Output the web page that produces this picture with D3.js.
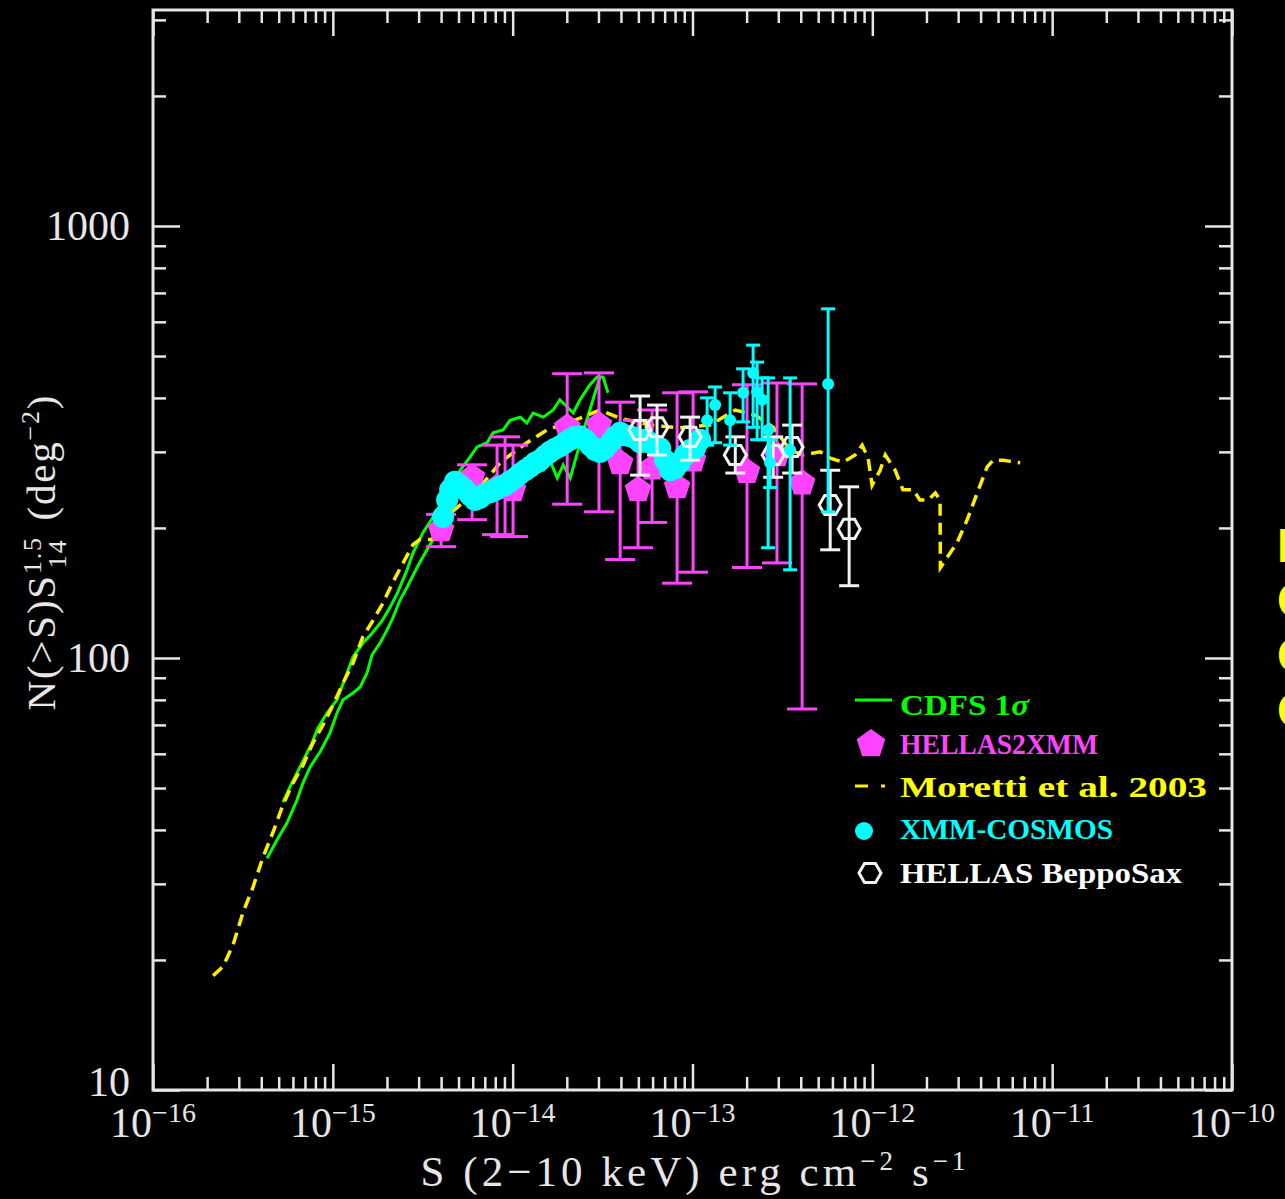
<!DOCTYPE html>
<html><head><meta charset="utf-8">
<script src="https://cdn.jsdelivr.net/npm/d3@7"></script>
<style>body{margin:0;background:#000;overflow:hidden}</style>
</head><body><svg id="c" width="1285" height="1199"></svg>
<script>
// ---------- axis setup ----------
const xDomain = [1e-16, 1e-10];
const yDomain = [10, 3162];
const xTickExponents = [-16, -15, -14, -13, -12, -11, -10];
const yTickLabels = [10, 100, 1000];

// ---------- CDFS 1 sigma (green, two curves) ----------
const cdfsUpperS = [5.28e-16,5.78e-16,6.32e-16,7.00e-16,7.66e-16,8.27e-16,9.28e-16,1.055e-15,1.20e-15,1.295e-15,1.47e-15,1.65e-15,1.88e-15,2.08e-15,2.28e-15,2.59e-15,2.79e-15,3.17e-15,3.61e-15,4.10e-15,4.49e-15,5.10e-15,5.80e-15,6.34e-15,7.20e-15,7.78e-15,8.84e-15,9.67e-15,1.10e-14,1.20e-14,1.30e-14,1.48e-14,1.68e-14,1.83e-14,2.01e-14,2.17e-14,2.37e-14,2.69e-14,2.95e-14,3.18e-14,3.39e-14];
const cdfsUpperN = [46.4,50.3,54.2,59.0,63.6,68.9,74.6,80.0,92.3,100.5,108.3,114,122,131,141,160,175,195,212,232,249,272,292,308,315,332,337,355,361,350,369,361,375,396,381,369,396,429,447,447,411];
const cdfsLowerS = [4.31e-16,4.89e-16,5.56e-16,6.32e-16,6.83e-16,7.47e-16,8.49e-16,9.64e-16,1.055e-15,1.14e-15,1.295e-15,1.42e-15,1.55e-15,1.65e-15,1.83e-15,2.00e-15,2.16e-15,2.36e-15,2.59e-15,2.94e-15,3.34e-15,3.61e-15,4.10e-15,4.49e-15,5.10e-15,6.59e-15,8.51e-15,1.10e-14,1.48e-14,1.61e-14,1.77e-14,1.91e-14,2.09e-14,2.53e-14,3.06e-14];
const cdfsLowerN = [34.4,37.9,41.5,46.9,51.4,55.9,60.6,67.1,74.6,80.0,83.0,85.7,92.3,101.6,108.3,116,124,136,146,162,178,188,217,236,242,249,256,262,272,287,261,280,261,346,447];

// ---------- Moretti et al. 2003 (yellow dashed) ----------
const morettiS = [2.16e-16,2.45e-16,2.79e-16,3.17e-16,3.60e-16,4.09e-16,4.65e-16,5.28e-16,6.01e-16,6.83e-16,7.76e-16,8.82e-16,1.003e-15,1.14e-15,1.295e-15,1.47e-15,1.67e-15,1.90e-15,2.16e-15,2.46e-15,2.79e-15,3.05e-15,3.56e-15,4.21e-15,5.10e-15,6.59e-15,8.51e-15,9.67e-15,1.20e-14,1.55e-14,2.01e-14,2.37e-14,3.06e-14,3.96e-14,5.81e-14,8.53e-14,1.25e-13,1.73e-13,2.23e-13,2.81e-13,3.49e-13,4.12e-13,5.13e-13,5.83e-13,6.88e-13,8.02e-13,8.78e-13,9.48e-13,9.97e-13,1.105e-12,1.18e-12,1.34e-12,1.48e-12,1.69e-12,1.84e-12,2.04e-12,2.24e-12,2.38e-12,2.39e-12,2.61e-12,2.96e-12,3.37e-12,3.83e-12,4.35e-12,4.70e-12,5.34e-12,6.64e-12];
const morettiN = [18.4,19.3,21.7,25.8,29.5,34.6,39.5,45.7,51.4,56.5,63.6,70.0,77.9,87.5,97.4,112,122,134,150,166,183,188,188,211,226,249,283,295,315,337,350,359,375,359,346,341,346,375,365,342,303,295,300,290,284,295,311,290,251,272,295,272,245,245,232,232,241,232,162,171,185,209,241,277,287,287,283];

// ---------- HELLAS2XMM (magenta pentagons with error bars) ----------
const hellas2xmmS   = [4.00e-15,5.95e-15,8.19e-15,9.07e-15,1.005e-14,2.01e-14,3.02e-14,3.96e-14,4.98e-14,5.96e-14,8.21e-14,1.008e-13,2.01e-13,2.95e-13,4.07e-13];
const hellas2xmmN   = [198,262,248,251,245,342,346,283,245,275,249,287,270,295,254];
const hellas2xmmTop = [215,280,311,325,311,455,457,391,355,375,411,413,429,433,431];
const hellas2xmmBot = [181,209,193,191,191,227,218,169,180,206,149,158,162,166,76.2];

// ---------- XMM-COSMOS (cyan) dense band ----------
const cosmosBandS = [4.10e-15,4.32e-15,4.49e-15,4.78e-15,5.10e-15,5.44e-15,5.80e-15,6.18e-15,6.59e-15,7.02e-15,7.49e-15,7.98e-15,8.51e-15,9.07e-15,9.67e-15,1.031e-14,1.099e-14,1.172e-14,1.250e-14,1.332e-14,1.420e-14,1.514e-14,1.614e-14,1.721e-14,1.835e-14,1.956e-14,2.085e-14,2.223e-14,2.371e-14,2.527e-14,2.694e-14,2.872e-14,3.062e-14,3.265e-14,3.481e-14,3.711e-14,3.956e-14,4.218e-14,4.497e-14,4.794e-14,5.111e-14,5.450e-14,5.810e-14,6.194e-14,6.604e-14,7.040e-14,7.506e-14,8.002e-14,8.531e-14,9.095e-14,9.696e-14,1.034e-13,1.102e-13];
const cosmosBandN = [212,232,245,256,251,245,238,232,235,240,242,245,249,251,256,261,267,272,277,283,287,294,300,305,309,315,320,325,326,320,311,303,300,306,315,325,332,328,326,323,316,320,315,311,306,287,272,275,284,295,303,306,320];
// XMM-COSMOS bright points with error bars
const cosmosS   = [1.206e-13,1.336e-13,1.619e-13,1.911e-13,2.173e-13,2.287e-13,2.439e-13,2.634e-13,2.70e-13,3.49e-13,5.68e-13];
const cosmosN   = [355,385,355,411,457,413,396,337,283,303,431];
const cosmosTop = [400,424,411,467,530,484,445,445,320,445,643];
const cosmosBot = [311,315,311,352,342,320,320,180,248,160,218];

// ---------- HELLAS BeppoSax (white open hexagons) ----------
const beppoS   = [5.11e-14,6.35e-14,9.70e-14,1.73e-13,2.81e-13,3.58e-13,5.83e-13,7.43e-13];
const beppoN   = [337,342,325,295,295,308,226,199];
const beppoTop = [404,385,361,325,325,346,272,249];
const beppoBot = [265,295,287,268,262,268,178,147];

// ---------- legend ----------
const legendLabels = ["CDFS 1", "HELLAS2XMM", "Moretti et al. 2003", "XMM-COSMOS", "HELLAS BeppoSax"];
const legendColors = ["#00ff00", "#ff44ff", "#ffff00", "#00ffff", "#ffffff"];
const edgeLetters = ["I", "C", "C", "C"];

// =========================================================
const W = 1285, H = 1199;
const L = 153, R = 1232, T = 10, B = 1090;
const svg = d3.select("#c");
svg.append("rect").attr("width", W).attr("height", H).attr("fill", "#000");

const x = d3.scaleLog().domain(xDomain).range([L, R]);
const y = d3.scaleLog().domain(yDomain).range([B, T]);

const axisColor = "#e6e6e6";
const xMajor = xTickExponents.map(e => Math.pow(10, e));
const xMinor = [];
xTickExponents.slice(0, -1).forEach(e => { for (let k = 2; k <= 9; k++) xMinor.push(k * Math.pow(10, e)); });
const yMajor = yTickLabels.slice();
const yMinor = [];
[1, 2, 3].forEach(e => { for (let k = 2; k <= 9; k++) { const v = k * Math.pow(10, e); if (v < yDomain[1]) yMinor.push(v); } });

function drawAxis(gen, tr) {
  const g = svg.append("g").attr("transform", tr).call(gen);
  g.select(".domain").remove();
  g.selectAll("line").attr("stroke", axisColor).attr("stroke-width", 2.5);
  g.selectAll("text").remove();
}
drawAxis(d3.axisBottom(x).tickValues(xMajor).tickSize(-26), `translate(0,${B})`);
drawAxis(d3.axisBottom(x).tickValues(xMinor).tickSize(-13), `translate(0,${B})`);
drawAxis(d3.axisTop(x).tickValues(xMajor).tickSize(-26), `translate(0,${T})`);
drawAxis(d3.axisTop(x).tickValues(xMinor).tickSize(-13), `translate(0,${T})`);
drawAxis(d3.axisLeft(y).tickValues(yMajor).tickSize(-27), `translate(${L},0)`);
drawAxis(d3.axisLeft(y).tickValues(yMinor).tickSize(-13), `translate(${L},0)`);
drawAxis(d3.axisRight(y).tickValues(yMajor).tickSize(-27), `translate(${R},0)`);
drawAxis(d3.axisRight(y).tickValues(yMinor).tickSize(-13), `translate(${R},0)`);

svg.append("rect").attr("x", L).attr("y", T).attr("width", R - L).attr("height", B - T)
  .attr("fill", "none").attr("stroke", axisColor).attr("stroke-width", 3);

// tick labels
const serif = "'Liberation Serif', 'Times New Roman', serif";
xTickExponents.forEach(e => {
  const t = svg.append("text").attr("x", x(Math.pow(10, e))).attr("y", 1137)
    .attr("text-anchor", "middle").attr("font-family", serif).attr("font-size", 42).attr("fill", axisColor);
  t.append("tspan").text("10");
  t.append("tspan").attr("font-size", 28).attr("dy", -15).text("−" + Math.abs(e));
});
yTickLabels.forEach(v => {
  svg.append("text").attr("x", 130).attr("y", y(v) + (v === 10 ? 6 : 14)).attr("text-anchor", "end")
    .attr("font-family", serif).attr("font-size", 42).attr("fill", axisColor).text(v);
});

// axis titles
const xt = svg.append("text").attr("x", 693).attr("y", 1186).attr("text-anchor", "middle")
  .attr("font-family", serif).attr("font-size", 43).attr("fill", axisColor)
  .attr("textLength", 545).attr("lengthAdjust", "spacing");
xt.append("tspan").text("S (2−10 keV) erg cm");
xt.append("tspan").attr("font-size", 27).attr("dy", -16).text("−2");
xt.append("tspan").attr("dy", 16).text(" s");
xt.append("tspan").attr("font-size", 27).attr("dy", -16).text("−1");

const yt = svg.append("text").attr("transform", "translate(55,553) rotate(-90)").attr("text-anchor", "middle")
  .attr("font-family", serif).attr("font-size", 41).attr("fill", axisColor)
  .attr("textLength", 315).attr("lengthAdjust", "spacing");
yt.append("tspan").text("N(>S)S");
yt.append("tspan").attr("font-size", 26).attr("dy", -14).text("1.5");
yt.append("tspan").attr("font-size", 26).attr("dx", -32).attr("dy", 25).text("14");
yt.append("tspan").attr("dx", 6).attr("dy", -11).text(" (deg");
yt.append("tspan").attr("font-size", 26).attr("dy", -16).text("−2");
yt.append("tspan").attr("dy", 16).text(")");

// ---------- plot content ----------
svg.append("clipPath").attr("id", "plotclip").append("rect")
  .attr("x", L).attr("y", T).attr("width", R - L).attr("height", B - T);
const plot = svg.append("g").attr("clip-path", "url(#plotclip)");

const line = d3.line().x(d => x(d[0])).y(d => y(d[1]));
const zip = (a, b) => a.map((v, i) => [v, b[i]]);

// green CDFS
plot.append("path").attr("d", line(zip(cdfsUpperS, cdfsUpperN))).attr("fill", "none")
  .attr("stroke", "#00ff00").attr("stroke-width", 3);
plot.append("path").attr("d", line(zip(cdfsLowerS, cdfsLowerN))).attr("fill", "none")
  .attr("stroke", "#00ff00").attr("stroke-width", 3);

// yellow Moretti
plot.append("path").attr("d", line(zip(morettiS, morettiN))).attr("fill", "none")
  .attr("stroke", "#ffee00").attr("stroke-width", 3.5).attr("stroke-dasharray", "12,7");

function pentPath(r) {
  const p = [];
  for (let i = 0; i < 5; i++) { const a = -Math.PI / 2 + i * 2 * Math.PI / 5; p.push([r * Math.cos(a), r * Math.sin(a)]); }
  return "M" + p.map(q => q.join(",")).join("L") + "Z";
}
function hexPath(r) {
  const p = [];
  for (let i = 0; i < 6; i++) { const a = i * Math.PI / 3; p.push([r * Math.cos(a), r * Math.sin(a)]); }
  return "M" + p.map(q => q.join(",")).join("L") + "Z";
}
function errBars(g, S, top, bot, color, cap, sw) {
  S.forEach((s, i) => {
    const cx = x(s);
    g.append("line").attr("x1", cx).attr("x2", cx).attr("y1", y(top[i])).attr("y2", y(bot[i]))
      .attr("stroke", color).attr("stroke-width", sw);
    [top[i], bot[i]].forEach(v => g.append("line").attr("x1", cx - cap).attr("x2", cx + cap)
      .attr("y1", y(v)).attr("y2", y(v)).attr("stroke", color).attr("stroke-width", sw));
  });
}

// HELLAS2XMM
const pink = "#ff44ff";
const gP = plot.append("g");
errBars(gP, hellas2xmmS, hellas2xmmTop, hellas2xmmBot, pink, 15, 3);
hellas2xmmS.forEach((s, i) => gP.append("path").attr("d", pentPath(14))
  .attr("transform", `translate(${x(s)},${y(hellas2xmmN[i])})`).attr("fill", pink));

// XMM-COSMOS band
const cyan = "#00ffff";
const gC = plot.append("g");
cosmosBandS.forEach((s, i) => gC.append("circle").attr("cx", x(s)).attr("cy", y(cosmosBandN[i]))
  .attr("r", 11).attr("fill", cyan));

// HELLAS BeppoSax
const gW = plot.append("g");
errBars(gW, beppoS, beppoTop, beppoBot, "#f2f2f2", 10, 3);
beppoS.forEach((s, i) => gW.append("path").attr("d", hexPath(11))
  .attr("transform", `translate(${x(s)},${y(beppoN[i])})`).attr("fill", "none")
  .attr("stroke", "#f2f2f2").attr("stroke-width", 3));

// XMM-COSMOS bright points
const gC2 = plot.append("g");
errBars(gC2, cosmosS, cosmosTop, cosmosBot, cyan, 7, 3);
cosmosS.forEach((s, i) => gC2.append("circle").attr("cx", x(s)).attr("cy", y(cosmosN[i]))
  .attr("r", 6).attr("fill", cyan));

// ---------- legend ----------
const legY = [715, 754, 797, 839, 883];
const legW = [129, 198, 307, 213, 282];
const lg = svg.append("g");
legendLabels.forEach((lab, i) => {
  const t = lg.append("text").attr("x", 900).attr("y", legY[i]).attr("fill", legendColors[i])
    .attr("font-family", serif).attr("font-weight", "bold").attr("font-size", 29)
    .attr("textLength", legW[i]).attr("lengthAdjust", "spacingAndGlyphs");
  t.append("tspan").text(lab);
  if (i === 0) t.append("tspan").attr("font-style", "italic").text("σ");
});
lg.append("line").attr("x1", 855).attr("x2", 892).attr("y1", 700).attr("y2", 700)
  .attr("stroke", "#00ff00").attr("stroke-width", 3);
lg.append("path").attr("d", pentPath(15)).attr("transform", "translate(871,744)").attr("fill", pink);
lg.append("line").attr("x1", 855).attr("x2", 887).attr("y1", 786).attr("y2", 786)
  .attr("stroke", "#ffee00").attr("stroke-width", 3).attr("stroke-dasharray", "13,13,4,10");
lg.append("circle").attr("cx", 864).attr("cy", 831).attr("r", 9).attr("fill", cyan);
lg.append("path").attr("d", hexPath(11)).attr("transform", "translate(870,873)")
  .attr("fill", "none").attr("stroke", "#f2f2f2").attr("stroke-width", 3);

// ---------- letters cut off at the right edge (as in the reference) ----------
edgeLetters.forEach((c, i) => {
  svg.append("text").attr("x", 1277).attr("y", 562 + i * 55).attr("fill", "#ffff00")
    .attr("font-family", "'Liberation Sans', Arial, sans-serif").attr("font-weight", "bold")
    .attr("font-size", 48).text(c);
});
</script></body></html>
